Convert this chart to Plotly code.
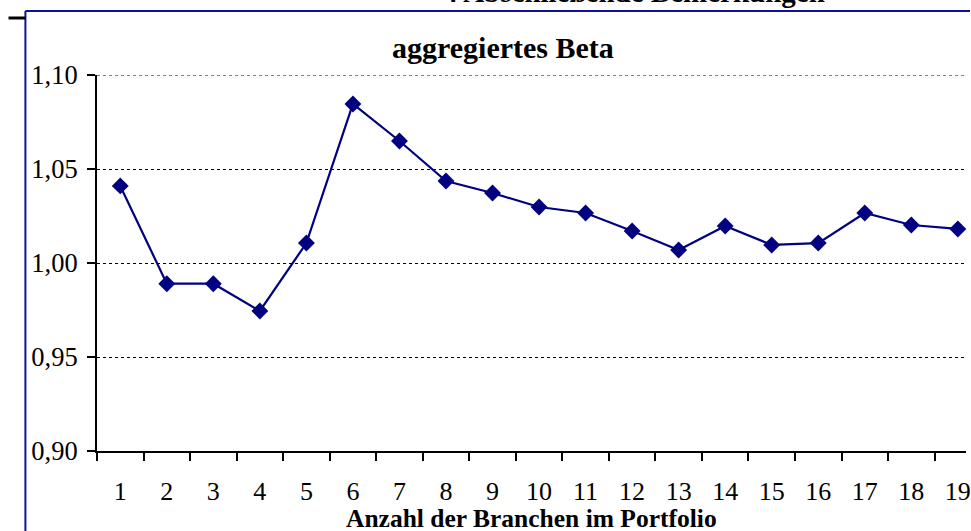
import plotly.graph_objects as go

categories = [str(i) for i in range(1, 20)]
beta = [1.041, 0.989, 0.989, 0.9745, 1.0106, 1.0846, 1.0649, 1.0436, 1.0372, 1.0298,
        1.0266, 1.017, 1.0069, 1.0197, 1.0096, 1.0106, 1.0266, 1.0202, 1.0181]
y_ticks = [0.90, 0.95, 1.00, 1.05, 1.10]

title_text = "aggregiertes Beta"
x_title = "Anzahl der Branchen im Portfolio"
heading = "4 Abschließende Bemerkungen"

NAVY = "#000080"
FONT = "Liberation Serif"

W, H = 971, 531
L, R, T, B = 97, 0, 75, 80
pw, ph = W - L - R, H - T - B

def px(x):
    return (x - L) / pw

def py(y):
    return (H - B - y) / ph

fig = go.Figure()
fig.add_trace(go.Scatter(
    x=categories, y=beta, mode="lines+markers",
    line=dict(color=NAVY, width=2.2),
    marker=dict(symbol="diamond", size=13, color=NAVY),
    cliponaxis=False,
))

fig.update_layout(
    width=W, height=H,
    margin=dict(l=L, r=R, t=T, b=B, pad=0),
    paper_bgcolor="white", plot_bgcolor="white",
    separators=",.",
    showlegend=False,
    font=dict(family=FONT, color="black", size=26),
    xaxis=dict(
        type="category", range=[-0.5, -0.5 + pw / 46.8],
        showline=True, linecolor="black", linewidth=2,
        ticks="outside", ticklen=8, tickwidth=2, tickcolor="black",
        tickson="boundaries", showgrid=False, zeroline=False,
        tickfont=dict(family=FONT, size=26), ticklabelstandoff=16,
    ),
    yaxis=dict(
        range=[0.9, 1.1], tickvals=y_ticks, tickformat=".2f",
        showline=True, linecolor="black", linewidth=2,
        ticks="outside", ticklen=8, tickwidth=2, tickcolor="black",
        showgrid=True, gridcolor="black", gridwidth=1, griddash="dot",
        zeroline=False, tickfont=dict(family=FONT, size=26.5),
        ticklabelstandoff=4,
    ),
)

# top gridline at 1,10 (coincides with plot edge)
fig.add_shape(type="line", xref="paper", yref="y", x0=0, x1=1,
              y0=y_ticks[-1], y1=y_ticks[-1],
              line=dict(color="black", width=1, dash="dot"), layer="below")

fig.add_annotation(xref="paper", yref="paper", x=px(505), y=py(48),
                   text="<b>" + title_text + "</b>", showarrow=False,
                   xanchor="center", yanchor="middle",
                   font=dict(family=FONT, size=30, color="black"))
fig.add_annotation(xref="paper", yref="paper", x=px(534), y=py(518),
                   text="<b>" + x_title + "</b>", showarrow=False,
                   xanchor="center", yanchor="middle",
                   font=dict(family=FONT, size=25.5, color="black"))
fig.add_annotation(xref="paper", yref="paper", x=px(637), y=py(-8.5),
                   text="<b>" + heading + "</b>", showarrow=False,
                   xanchor="center", yanchor="middle",
                   font=dict(family=FONT, size=29, color="black"))

# document frame
fig.add_shape(type="line", xref="paper", yref="paper",
              x0=px(25), x1=px(975), y0=py(11), y1=py(11),
              line=dict(color="#10109a", width=2))
fig.add_shape(type="line", xref="paper", yref="paper",
              x0=px(25), x1=px(25), y0=py(11), y1=py(540),
              line=dict(color="#10109a", width=2))
fig.add_shape(type="line", xref="paper", yref="paper",
              x0=px(8), x1=px(25), y0=py(18), y1=py(18),
              line=dict(color="black", width=3))

fig.write_html("out.html", config={"displayModeBar": False},
               post_script="document.body.style.margin='0';document.body.style.overflow='hidden';")
